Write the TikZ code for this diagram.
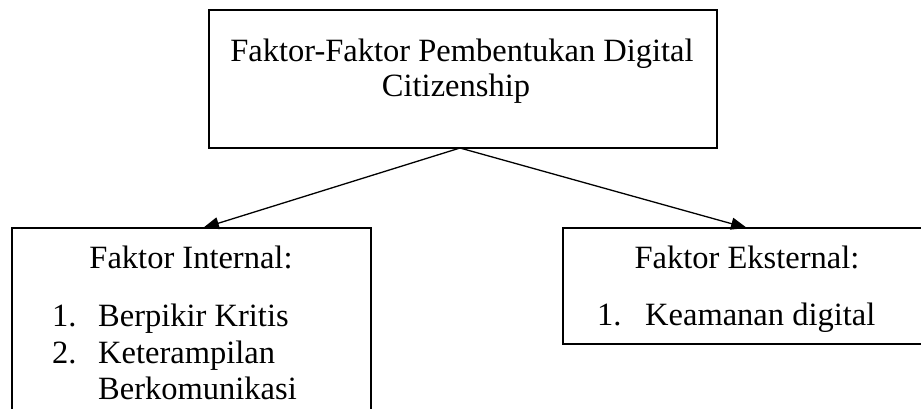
\documentclass[tikz,border=0pt]{standalone}
\usepackage{fontspec}
\setmainfont{Liberation Serif}
\usetikzlibrary{arrows.meta}
\begin{document}
\begin{tikzpicture}[x=1pt,y=-1pt,
  boxline/.style={line width=2.6pt},
  conn/.style={line width=1.3pt,-{Triangle[length=16pt,width=12pt]}},
  txt/.style={font=\fontsize{32.5}{38}\selectfont,inner sep=0pt,anchor=base},
  txtl/.style={font=\fontsize{32.5}{38}\selectfont,inner sep=0pt,anchor=base west}]
\useasboundingbox (0,0) rectangle (921,409);
\clip (0,0) rectangle (921,409);
% top box
\node[draw,boxline,minimum width=508pt,minimum height=138pt,inner sep=0pt] (top) at (463,79) {};
\node[txt] (t1) at (462,62) {Faktor-Faktor Pembentukan Digital};
\node[txt] (t2) at (456,97) {Citizenship};
% left box (open at the bottom)
\draw[boxline] (12,420) -- (12,228) -- (371,228) -- (371,420);
\coordinate (lt) at (203,228);
\node[txt] (l0) at (191,268) {Faktor Internal:};
\node[txtl] (l1n) at (52,326) {1.};
\node[txtl] (l1) at (98,326) {Berpikir Kritis};
\node[txtl] (l2n) at (52,363) {2.};
\node[txtl] (l2) at (98,363) {Keterampilan};
\node[txtl] (l3) at (98,399) {Berkomunikasi};
% right box (open at the right)
\draw[boxline] (930,228) -- (563,228) -- (563,344) -- (930,344);
\coordinate (rt) at (747,228);
\node[txt] (r0) at (747,268) {Faktor Eksternal:};
\node[txtl] (r1n) at (597,325) {1.};
\node[txtl] (r1) at (645,325) {Keamanan digital};
% connectors
\coordinate (ap) at (460,148);
\draw[conn] (ap) -- (lt);
\draw[conn] (ap) -- (rt);
\end{tikzpicture}
\end{document}
